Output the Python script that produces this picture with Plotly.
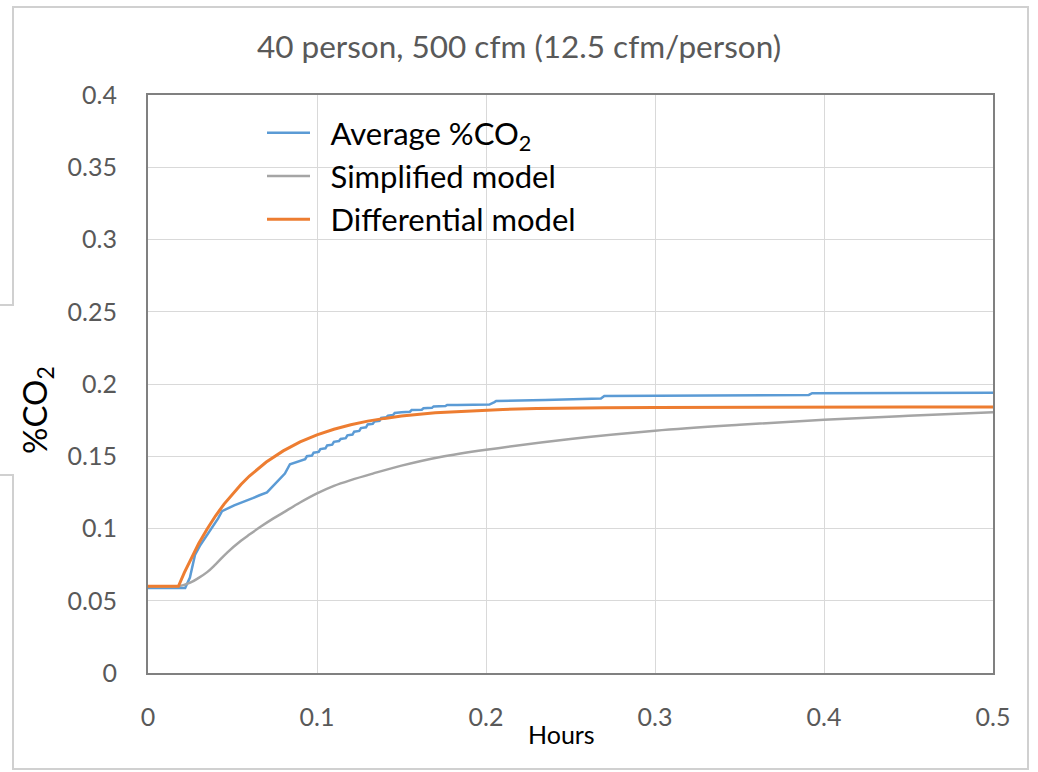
import plotly.graph_objects as go

# ---- data -------------------------------------------------------------
blue_hours = [
    0.000, 0.022, 0.0248, 0.0278, 0.031, 0.035, 0.0385, 0.0415, 0.0438, 0.047,
    0.051, 0.0544, 0.058, 0.062, 0.066, 0.0704, 0.0728, 0.0763, 0.079, 0.081,
    0.084, 0.087, 0.090, 0.093, 0.094, 0.097, 0.098, 0.101, 0.102, 0.105,
    0.106, 0.109, 0.110, 0.113, 0.114, 0.117, 0.118, 0.121, 0.122, 0.125,
    0.126, 0.129, 0.130, 0.133, 0.134, 0.137, 0.138, 0.141, 0.142, 0.145,
    0.146, 0.149, 0.150, 0.155, 0.156, 0.162, 0.163, 0.168, 0.169, 0.176,
    0.177, 0.183, 0.202, 0.205, 0.206, 0.235, 0.268, 0.270, 0.330, 0.391,
    0.393, 0.450, 0.500,
]
avg_co2 = [
    0.0588, 0.0588, 0.0660, 0.0817, 0.0886, 0.0955, 0.1024, 0.1070, 0.1120, 0.1140,
    0.1160, 0.1176, 0.1190, 0.1210, 0.1230, 0.1250, 0.1280, 0.1320, 0.1350, 0.1380,
    0.1445, 0.1455, 0.1470, 0.1480, 0.1500, 0.1505, 0.1525, 0.1530, 0.1550, 0.1555,
    0.1575, 0.1580, 0.1600, 0.1605, 0.1620, 0.1625, 0.1645, 0.1650, 0.1670, 0.1675,
    0.1695, 0.1700, 0.1720, 0.1725, 0.1740, 0.1745, 0.1765, 0.1770, 0.1780, 0.1785,
    0.1800, 0.1800, 0.1805, 0.1808, 0.1820, 0.1822, 0.1832, 0.1835, 0.1845, 0.1848,
    0.1855, 0.1855, 0.1858, 0.1875, 0.1882, 0.1890, 0.1900, 0.1917, 0.1920, 0.1924,
    0.1936, 0.1938, 0.1940,
]

simp_hours = [0, 0.018, 0.025, 0.030, 0.035, 0.040, 0.047, 0.055, 0.060, 0.067,
              0.074, 0.080, 0.090, 0.100, 0.110, 0.120, 0.133, 0.150, 0.173, 0.200,
              0.250, 0.300, 0.350, 0.400, 0.450, 0.500]
simp_co2 = [0.060, 0.060, 0.0625, 0.0658, 0.0698, 0.0752, 0.0835, 0.0915, 0.0958, 0.1015,
            0.1068, 0.1110, 0.1180, 0.1243, 0.1295, 0.1335, 0.1380, 0.1435, 0.1495, 0.1545,
            0.1620, 0.1677, 0.1718, 0.1752, 0.1780, 0.1805]

diff_hours = [0, 0.018, 0.0215, 0.025, 0.030, 0.035, 0.040, 0.045, 0.050, 0.055,
              0.060, 0.070, 0.080, 0.090, 0.100, 0.110, 0.120, 0.130, 0.140, 0.150,
              0.170, 0.190, 0.210, 0.230, 0.250, 0.270, 0.300, 0.350, 0.400, 0.450,
              0.500]
diff_co2 = [0.0600, 0.0600, 0.0695, 0.0782, 0.0896, 0.0997, 0.1088, 0.1169, 0.1241, 0.1305,
            0.1363, 0.1460, 0.1537, 0.1599, 0.1648, 0.1687, 0.1718, 0.1743, 0.1762, 0.1778,
            0.1801, 0.1815, 0.1824, 0.1830, 0.1834, 0.1836, 0.1838, 0.1840, 0.1840, 0.1840,
            0.1840]

x_ticks = [0, 0.1, 0.2, 0.3, 0.4, 0.5]
x_tick_text = ["0", "0.1", "0.2", "0.3", "0.4", "0.5"]
y_ticks = [0, 0.05, 0.1, 0.15, 0.2, 0.25, 0.3, 0.35, 0.4]
y_tick_text = ["0", "0.05", "0.1", "0.15", "0.2", "0.25", "0.3", "0.35", "0.4"]

title_text = "40 person, 500 cfm (12.5 cfm/person)"
series_names = ["Average %CO<sub>2</sub>", "Simplified model", "Differential model"]

FONT = "Lato"
GREY_TEXT = "#595959"
KEY_GAP = "\u2002"  # en space between legend key and label

# ---- figure -----------------------------------------------------------
fig = go.Figure()
fig.add_trace(go.Scatter(x=blue_hours, y=avg_co2, mode="lines",
                         name=KEY_GAP + series_names[0],
                         line=dict(color="#5B9BD5", width=2.5)))
fig.add_trace(go.Scatter(x=simp_hours, y=simp_co2, mode="lines",
                         name=KEY_GAP + series_names[1],
                         line=dict(color="#A5A5A5", width=2.5, shape="spline")))
fig.add_trace(go.Scatter(x=diff_hours, y=diff_co2, mode="lines",
                         name=KEY_GAP + series_names[2],
                         line=dict(color="#ED7D31", width=3)))

W, H = 1038, 772
ML, MR, MT, MB = 148, 45, 95, 99
PW, PH = W - ML - MR, H - MT - MB


def px_x(px):
    return (px - ML) / PW


def px_y(py):
    return (H - MB - py) / PH


# outer chart frame (left edge steps out around the axis title)
fx0, fx1 = px_x(13), px_x(1028)
fy0, fy1 = px_y(769), px_y(7)
jx = px_x(-4)
jy_top, jy_bot = px_y(305), px_y(475)
frame_path = (f"M {jx},{jy_bot} L {fx0},{jy_bot} L {fx0},{fy0} L {fx1},{fy0} "
              f"L {fx1},{fy1} L {fx0},{fy1} L {fx0},{jy_top} L {jx},{jy_top}")

shapes = [
    dict(type="path", xref="paper", yref="paper", path=frame_path,
         line=dict(color="#D0D0D0", width=2), layer="above"),
    # legend text backdrop
    dict(type="rect", xref="paper", yref="paper",
         x0=px_x(310), x1=px_x(608), y0=px_y(245), y1=px_y(108),
         fillcolor="white", line=dict(width=0), layer="between"),
]

fig.update_layout(
    width=W, height=H,
    margin=dict(l=ML, r=MR, t=MT, b=MB),
    paper_bgcolor="white", plot_bgcolor="white",
    font=dict(family=FONT, color=GREY_TEXT),
    title=dict(text=title_text, x=0.5, xref="container", xanchor="center",
               y=1 - 47 / H, yref="container", yanchor="middle",
               font=dict(family=FONT, size=31.5, color=GREY_TEXT)),
    showlegend=True,
    legend=dict(x=px_x(262), y=px_y(106), xanchor="left", yanchor="top",
                bgcolor="rgba(0,0,0,0)", borderwidth=0,
                font=dict(family=FONT, size=31, color="#000000"),
                itemwidth=43, tracegroupgap=0),
    shapes=shapes,
    annotations=[
        dict(text="%CO<sub>2</sub>", textangle=-90, xref="paper", yref="paper",
             x=px_x(36), y=px_y(410), xanchor="center", yanchor="middle",
             showarrow=False, font=dict(family=FONT, size=33, color="#000000")),
        dict(text="Hours", xref="paper", yref="paper",
             x=px_x(561), y=px_y(734), xanchor="center", yanchor="middle",
             showarrow=False, font=dict(family=FONT, size=25, color="#000000")),
    ],
)

fig.update_xaxes(range=[0, 0.5], tickvals=x_ticks, ticktext=x_tick_text,
                 showgrid=True, gridcolor="#D9D9D9", gridwidth=1,
                 showline=True, linecolor="#808080", linewidth=2, mirror=True,
                 zeroline=False, ticks="", ticklabelstandoff=21,
                 tickfont=dict(family=FONT, size=25, color=GREY_TEXT))
fig.update_yaxes(range=[0, 0.4], tickvals=y_ticks, ticktext=y_tick_text,
                 showgrid=True, gridcolor="#D9D9D9", gridwidth=1,
                 showline=True, linecolor="#808080", linewidth=2, mirror=True,
                 zeroline=False, ticks="", ticklabelstandoff=24,
                 tickfont=dict(family=FONT, size=25, color=GREY_TEXT))

fig.write_html("out.html")
